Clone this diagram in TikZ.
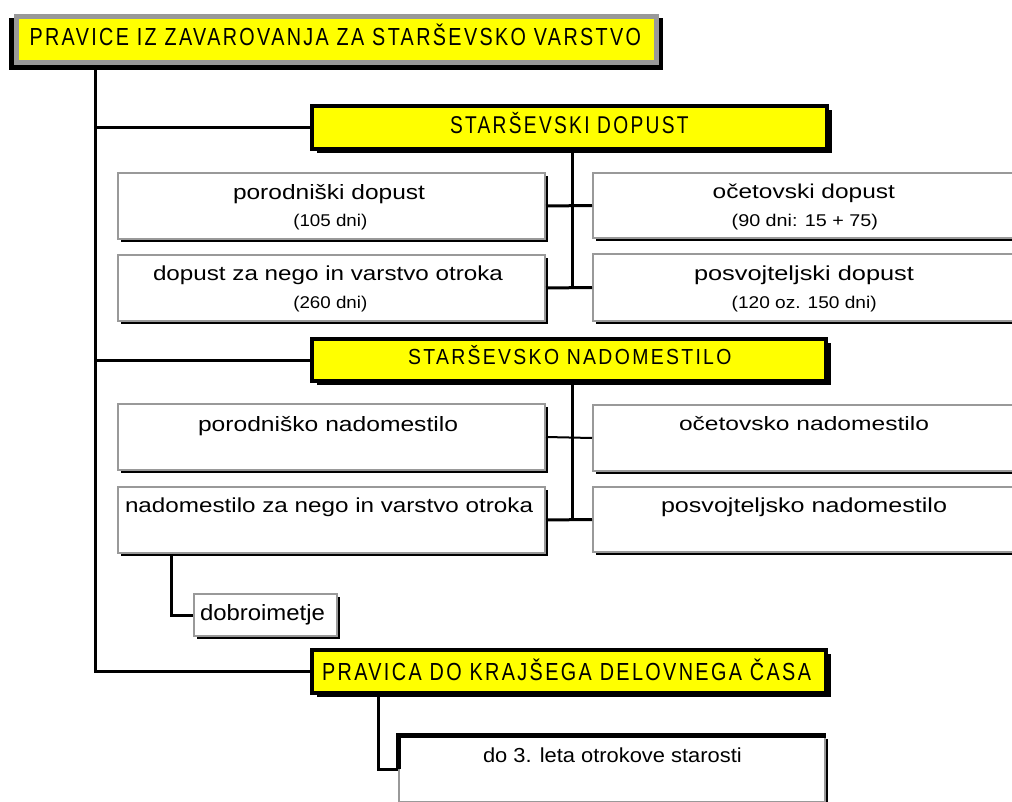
\documentclass[tikz,border=0pt]{standalone}
\usepackage{fontspec}
\setmainfont{Liberation Sans}
\usetikzlibrary{shadows,calc}
\definecolor{bgrey}{RGB}{153,153,153}
\definecolor{byellow}{RGB}{255,255,0}
\newcommand\fitl[3]{\resizebox{#1pt}{#2pt}{\vphantom{d}\smash{#3}}}
\newcommand\fitn[3]{\resizebox{#1pt}{#2pt}{\vphantom{1}\smash{#3}}}
\newcommand\fitc[3]{\resizebox{#1pt}{#2pt}{\vphantom{X}\smash{\addfontfeature{LetterSpace=12}#3}}}
\tikzset{
  wbox/.style={rectangle, draw=bgrey, line width=2pt, fill=white, inner sep=0pt, anchor=north west,
    drop shadow={shadow xshift=3pt, shadow yshift=-3pt, opacity=1, fill=black}},
  ybox/.style={rectangle, draw=black, line width=4pt, fill=byellow, inner sep=0pt, anchor=north west,
    drop shadow={shadow xshift=5pt, shadow yshift=-4pt, opacity=1, fill=black}},
  txt/.style={anchor=base west, inner sep=0pt, outer sep=0pt},
  conn/.style={draw=black, line width=3pt},
  thinconn/.style={draw=black, line width=2pt}
}
\begin{document}
\begin{tikzpicture}[x=1pt,y=-1pt]
\useasboundingbox (0,0) rectangle (1012,802);
\fill[white] (0,0) rectangle (1012,802);
% top box
\fill[black] (9,18) rectangle (663,70);
\node[rectangle, draw=bgrey, line width=5pt, fill=byellow, inner sep=0pt, anchor=north west,
  minimum width=640pt, minimum height=46pt] (top) at (14,14) {};
\node[txt] (ttop) at (29.5,46) {\fitc{611.5}{17}{PRAVICE IZ ZAVAROVANJA ZA STARŠEVSKO VARSTVO}};
% yellow boxes
\node[ybox, minimum width=515pt, minimum height=43pt] (y1) at (310,104) {};
\node[txt] (ty1) at (450,133.3) {\fitc{238.6}{16.7}{STARŠEVSKI DOPUST}};
\node[ybox, minimum width=514pt, minimum height=42pt] (y2) at (310,337) {};
\node[txt] (ty2) at (408,365) {\fitc{323.4}{15}{STARŠEVSKO NADOMESTILO}};
\node[ybox, minimum width=514pt, minimum height=43pt] (y3) at (310,648) {};
\node[txt] (ty3) at (322,680) {\fitc{489}{17}{PRAVICA DO KRAJŠEGA DELOVNEGA ČASA}};
% white boxes, dopust
\node[wbox, minimum width=427pt, minimum height=66pt] (la) at (117,172) {};
\node[wbox, minimum width=427pt, minimum height=66pt] (lb) at (117,254) {};
\node[wbox, minimum width=430pt, minimum height=65pt] (ra) at (592,172) {};
\node[wbox, minimum width=430pt, minimum height=67pt] (rb) at (592,253) {};
\node[txt] (tla1) at (233,200) {\fitl{192}{15}{porodniški dopust}};
\node[txt] (tla2) at (293.3,226.7) {\fitn{74}{11.7}{(105 dni)}};
\node[txt] (tlb1) at (153,280.7) {\fitl{350}{14.7}{dopust za nego in varstvo otroka}};
\node[txt] (tlb2) at (293.3,308.7) {\fitn{74}{11.7}{(260 dni)}};
\node[txt] (tra1) at (712.7,198.5) {\fitl{182.3}{14.5}{očetovski dopust}};
\node[txt] (tra2) at (731.7,226.7) {\fitn{146.3}{11.7}{(90 dni: 15 + 75)}};
\node[txt] (trb1) at (694,280.7) {\fitl{220}{14.7}{posvojteljski dopust}};
\node[txt] (trb2) at (731.7,308.7) {\fitn{145}{11.7}{(120 oz. 150 dni)}};
% white boxes, nadomestilo
\node[wbox, minimum width=427pt, minimum height=66pt] (lc) at (117,403) {};
\node[wbox, minimum width=427pt, minimum height=66pt] (ld) at (117,486) {};
\node[wbox, minimum width=430pt, minimum height=66pt] (rc) at (592,404) {};
\node[wbox, minimum width=430pt, minimum height=65pt] (rd) at (592,486) {};
\node[txt] (tlc) at (198,431.7) {\fitl{260}{15}{porodniško nadomestilo}};
\node[txt] (tld) at (125,512.7) {\fitl{408}{14.7}{nadomestilo za nego in varstvo otroka}};
\node[txt] (trc) at (679,430.5) {\fitl{250}{14}{očetovsko nadomestilo}};
\node[txt] (trd) at (661,512.7) {\fitl{286}{14.7}{posvojteljsko nadomestilo}};
% dobroimetje
\node[wbox, minimum width=143pt, minimum height=42pt] (dob) at (193,593) {};
\node[txt] (tdob) at (200,620) {\fitl{125}{16}{dobroimetje}};
% bottom box
\node[wbox, minimum width=426pt, minimum height=66pt] (bt) at (398,735) {};
\draw[black, line width=5pt] ([yshift=-34pt]bt.north west) -- (bt.north west) -- (bt.north east);
\node[txt] (tbt) at (483,762.7) {\fitl{258.7}{14.7}{do 3. leta otrokove starosti}};
% connectors
\coordinate (tk) at ($(top.south west)+(81.5,5)$);
\draw[conn] (tk) |- (y3.west);
\draw[conn] (tk |- y1.west) -- (y1.west);
\draw[conn] (tk |- y2.west) -- (y2.west);
\coordinate (d1) at ($(y1.south west)+(262,0)$);
\draw[conn] (d1) -- (d1 |- lb.east);
\draw[conn] (la.east) -- (ra.west);
\draw[conn] (lb.east) -- (rb.west);
\coordinate (d2) at ($(y2.south west)+(262,0)$);
\draw[conn] (d2) -- (d2 |- ld.east);
\draw[thinconn] (lc.east) -- (rc.west);
\draw[conn] (ld.east) -- (rd.west);
\coordinate (d3) at ($(ld.south west)+(54,0)$);
\draw[conn] (d3) |- (dob.west);
\coordinate (d4) at ($(y3.south west)+(68,0)$);
\draw[conn] (d4) |- (bt.west);
\end{tikzpicture}
\end{document}
